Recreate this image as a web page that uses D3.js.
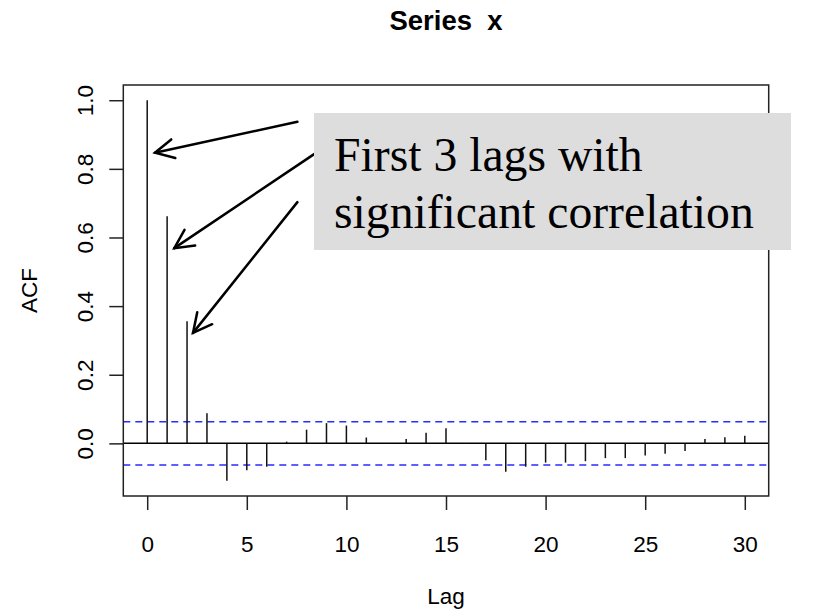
<!DOCTYPE html>
<html>
<head>
<meta charset="utf-8">
<script src="https://cdn.jsdelivr.net/npm/d3@7"></script>
<style>
  html, body { margin: 0; padding: 0; background: #ffffff; }
  svg { display: block; }
</style>
</head>
<body>
<svg id="chart" width="814" height="614"></svg>
<script>
// ---- data ----
const lags = [0, 1, 2, 3, 4, 5, 6, 7, 8, 9, 10, 11, 12, 13, 14, 15, 16, 17, 18, 19, 20, 21, 22, 23, 24, 25, 26, 27, 28, 29, 30];
const acfValues = [1.000, 0.662, 0.356, 0.088, -0.109, -0.078, -0.068, 0.005, 0.040, 0.059, 0.052, 0.017, 0.001, 0.013, 0.031, 0.044, -0.001, -0.049, -0.083, -0.068, -0.056, -0.056, -0.052, -0.043, -0.043, -0.035, -0.030, -0.022, 0.013, 0.018, 0.022];
const ciBound = 0.063;
const xTicks = [0, 5, 10, 15, 20, 25, 30];
const yTicks = [0.0, 0.2, 0.4, 0.6, 0.8, 1.0];
const titleText = "Series  x";
const xLabel = "Lag";
const yLabel = "ACF";
const noteLines = ["First 3 lags with", "significant correlation"];
// arrows: from (lag, acf) to (lag, acf) in data space
const arrowStarts = [[7.54, 0.937], [8.38, 0.843], [7.54, 0.703]];
const arrowEnds = [[0.39, 0.847], [1.36, 0.569], [2.30, 0.322]];

// ---- layout ----
const plot = { left: 123.3, right: 768.7, top: 85, bottom: 496 };
const sansFont = "'Liberation Sans', Arial, Helvetica, sans-serif";
const serifFont = "'Liberation Serif', 'Times New Roman', Times, serif";

const svg = d3.select("#chart");

const xExt = d3.extent(lags);
const xPad = (xExt[1] - xExt[0]) * 0.04;
const x = d3.scaleLinear().domain([xExt[0] - xPad, xExt[1] + xPad]).range([plot.left, plot.right]);

const yExt = d3.extent(acfValues.concat([ciBound, -ciBound]));
const yPad = (yExt[1] - yExt[0]) * 0.04;
const y = d3.scaleLinear().domain([yExt[0] - yPad, yExt[1] + yPad]).range([plot.bottom, plot.top]);

// plot region clip
svg.append("defs").append("clipPath").attr("id", "plotclip")
  .append("rect")
  .attr("x", plot.left).attr("y", plot.top)
  .attr("width", plot.right - plot.left).attr("height", plot.bottom - plot.top);

const inner = svg.append("g").attr("clip-path", "url(#plotclip)");

// zero line
inner.append("line")
  .attr("x1", plot.left).attr("x2", plot.right)
  .attr("y1", y(0)).attr("y2", y(0))
  .attr("stroke", "#000").attr("stroke-width", 1.5);

// confidence bounds
[ciBound, -ciBound].forEach(v => {
  inner.append("line")
    .attr("x1", plot.left).attr("x2", plot.right)
    .attr("y1", y(v)).attr("y2", y(v))
    .attr("stroke", "#2a2aff").attr("stroke-width", 1.5)
    .attr("stroke-dasharray", "7,5");
});

// acf spikes
inner.selectAll("line.spike")
  .data(lags)
  .join("line")
  .attr("class", "spike")
  .attr("x1", (d) => x(d)).attr("x2", (d) => x(d))
  .attr("y1", y(0)).attr("y2", (d, i) => y(acfValues[i]))
  .attr("stroke", "#111").attr("stroke-width", 1.5);

// box
svg.append("rect")
  .attr("x", plot.left).attr("y", plot.top)
  .attr("width", plot.right - plot.left).attr("height", plot.bottom - plot.top)
  .attr("fill", "none").attr("stroke", "#222").attr("stroke-width", 1.5);

// x axis
const xAxis = svg.append("g")
  .attr("transform", `translate(0,${plot.bottom})`)
  .call(d3.axisBottom(x).tickValues(xTicks).tickSize(14).tickSizeOuter(0).tickFormat(d3.format("d")));
xAxis.select(".domain").remove();
xAxis.selectAll(".tick line").attr("stroke", "#222").attr("stroke-width", 1.5);
xAxis.selectAll(".tick text")
  .attr("y", 56).attr("dy", 0)
  .attr("font-family", sansFont).attr("font-size", 22.5).attr("fill", "#000");

// y axis
const yAxis = svg.append("g")
  .attr("transform", `translate(${plot.left},0)`)
  .call(d3.axisLeft(y).tickValues(yTicks).tickSize(14).tickSizeOuter(0).tickFormat(d3.format(".1f")));
yAxis.select(".domain").remove();
yAxis.selectAll(".tick line").attr("stroke", "#222").attr("stroke-width", 1.5);
yAxis.selectAll(".tick text")
  .attr("x", 0).attr("y", -30).attr("dy", 0)
  .attr("transform", "rotate(-90)")
  .attr("text-anchor", "middle")
  .attr("font-family", sansFont).attr("font-size", 22.5).attr("fill", "#000");

// title
svg.append("text")
  .attr("x", (plot.left + plot.right) / 2).attr("y", 30)
  .attr("text-anchor", "middle")
  .attr("font-family", sansFont).attr("font-weight", "bold").attr("font-size", 27.5)
  .style("white-space", "pre")
  .attr("fill", "#000")
  .text(titleText);

// axis titles
svg.append("text")
  .attr("x", (plot.left + plot.right) / 2).attr("y", 604)
  .attr("text-anchor", "middle")
  .attr("font-family", sansFont).attr("font-size", 22.5).attr("fill", "#000")
  .text(xLabel);

svg.append("text")
  .attr("transform", `translate(37,${(plot.top + plot.bottom) / 2}) rotate(-90)`)
  .attr("text-anchor", "middle")
  .attr("font-family", sansFont).attr("font-size", 22.5).attr("fill", "#000")
  .text(yLabel);

// arrows
const arrowG = svg.append("g");
arrowStarts.forEach((s, i) => {
  const e = arrowEnds[i];
  const x1 = x(s[0]), y1 = y(s[1]), x2 = x(e[0]), y2 = y(e[1]);
  arrowG.append("line")
    .attr("x1", x1).attr("y1", y1).attr("x2", x2).attr("y2", y2)
    .attr("stroke", "#000").attr("stroke-width", 2.5).attr("stroke-linecap", "round");
  const ang = Math.atan2(y1 - y2, x1 - x2);
  const L = 21, half = 27 * Math.PI / 180;
  const w1 = [x2 + L * Math.cos(ang + half), y2 + L * Math.sin(ang + half)];
  const w2 = [x2 + L * Math.cos(ang - half), y2 + L * Math.sin(ang - half)];
  arrowG.append("path")
    .attr("d", `M${w1[0]},${w1[1]}L${x2},${y2}L${w2[0]},${w2[1]}`)
    .attr("fill", "none").attr("stroke", "#000").attr("stroke-width", 2.5)
    .attr("stroke-linecap", "round").attr("stroke-linejoin", "miter");
});

// annotation box
const note = svg.append("g");
note.append("rect")
  .attr("x", 314).attr("y", 113).attr("width", 477).attr("height", 137)
  .attr("fill", "#dddddd");
note.selectAll("text")
  .data(noteLines)
  .join("text")
  .attr("x", 334).attr("y", (d, i) => 171 + i * 57)
  .attr("font-family", serifFont).attr("font-size", 47.7).attr("fill", "#000")
  .text((d) => d);
</script>
</body>
</html>
